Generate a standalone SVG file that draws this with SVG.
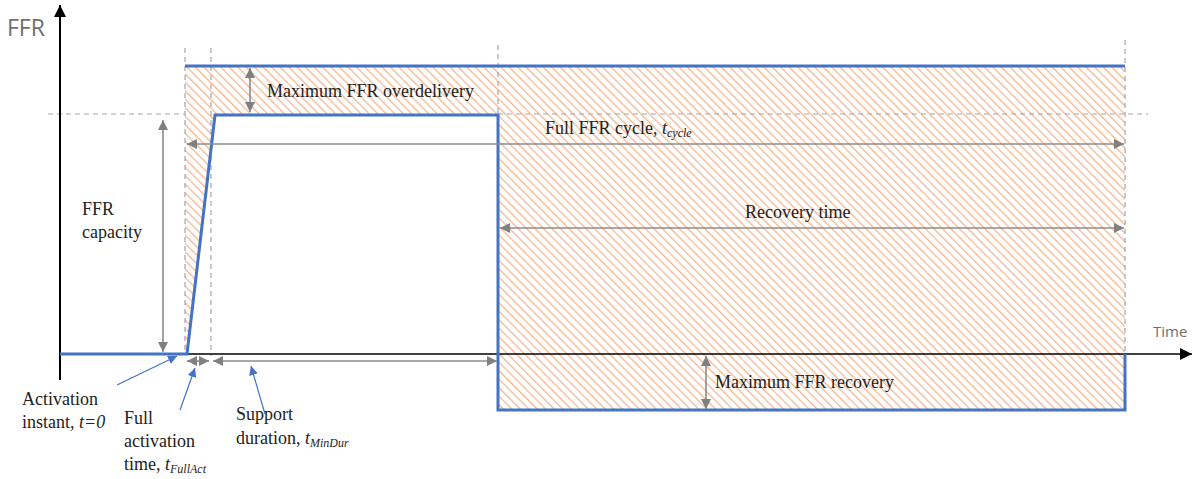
<svg xmlns="http://www.w3.org/2000/svg" width="1197" height="479" viewBox="0 0 1197 479">
<defs>
<pattern id="hatch" patternUnits="userSpaceOnUse" width="6" height="6" patternTransform="rotate(-45)">
<rect width="6" height="6" fill="#ffffff"/>
<line x1="0" y1="0" x2="0" y2="6" stroke="#f4b690" stroke-width="2.6"/>
</pattern>
<marker id="ga" viewBox="0 0 10 10" refX="10" refY="5" markerWidth="10" markerHeight="10" markerUnits="userSpaceOnUse" orient="auto-start-reverse">
<path d="M0,0 L10,5 L0,10 z" fill="#808080"/>
</marker>
<marker id="ka" viewBox="0 0 10 10" refX="10" refY="5" markerWidth="12" markerHeight="12" markerUnits="userSpaceOnUse" orient="auto">
<path d="M0,0 L10,5 L0,10 z" fill="#000"/>
</marker>
<marker id="ba" viewBox="0 0 10 10" refX="10" refY="5" markerWidth="9" markerHeight="9" markerUnits="userSpaceOnUse" orient="auto">
<path d="M0,0 L10,5 L0,10 z" fill="#4472c4"/>
</marker>
<style>
.lbl{font-family:"Liberation Serif","Times New Roman",serif;font-size:18px;fill:#222}
.ax{font-family:"Open Sans","DejaVu Sans",sans-serif;fill:#6f6f6f}
.dash{stroke:#a6a6a6;stroke-width:1.2;stroke-dasharray:5,4;fill:none}
.dim{stroke:#8c8c8c;stroke-width:1.6;fill:none;marker-start:url(#ga);marker-end:url(#ga)}
.ptr{stroke:#4472c4;stroke-width:1.2;fill:none;marker-end:url(#ba)}
.curve{stroke:#4472c4;stroke-width:3;fill:none}
</style>
</defs>

<g id="hatched-area">
<path d="M185,66 L1125,66 L1125,410 L498,410 L498,115 L215,115 L187,354 L185,354 Z" fill="url(#hatch)"/>
</g>

<g id="guides">
<line class="dash" x1="185" y1="48" x2="185" y2="354"/>
<line class="dash" x1="211" y1="48" x2="211" y2="356"/>
<line class="dash" x1="498" y1="45" x2="498" y2="115"/>
<line class="dash" x1="1125" y1="40" x2="1125" y2="354"/>
<line class="dash" x1="48" y1="114" x2="185" y2="114"/>
<line class="dash" x1="498" y1="114" x2="1148" y2="114"/>
</g>

<g id="axes">
<line x1="60" y1="380" x2="60" y2="5" stroke="#000" stroke-width="2" marker-end="url(#ka)"/>
<line x1="60" y1="354" x2="1192" y2="354" stroke="#000" stroke-width="1.5" marker-end="url(#ka)"/>
<text class="ax" x="7" y="36" font-size="23">FFR</text>
<text class="ax" x="1153" y="337" font-size="15">Time</text>
</g>

<g id="ffr-curve">
<polyline class="curve" points="60,354 187,354 215,115 498,115 498,410 1125,410 1125,354"/>
<line class="curve" x1="185" y1="66" x2="1125" y2="66"/>
</g>

<g id="connectors">
<line class="dim" x1="250" y1="68" x2="250" y2="112"/>
<line class="dim" x1="163" y1="120" x2="163" y2="352"/>
<line class="dim" x1="187" y1="144" x2="1124" y2="144"/>
<line class="dim" x1="500" y1="228" x2="1124" y2="228"/>
<line class="dim" x1="706" y1="356" x2="706" y2="409"/>
<line class="dim" x1="187" y1="361" x2="209" y2="361"/>
<line class="dim" x1="213" y1="361" x2="497" y2="361"/>
<line class="ptr" x1="117" y1="385" x2="177" y2="356"/>
<line class="ptr" x1="180" y1="410" x2="195" y2="368"/>
<line class="ptr" x1="265" y1="414" x2="251" y2="366"/>
</g>

<g id="label-overdelivery"><text class="lbl" x="267" y="97">Maximum FFR overdelivery</text></g>
<g id="label-capacity"><text class="lbl" x="82" y="215">FFR</text><text class="lbl" x="82" y="238">capacity</text></g>
<g id="label-cycle"><text class="lbl" x="545" y="134">Full FFR cycle, <tspan font-style="italic">t</tspan><tspan font-style="italic" font-size="12" dy="3">cycle</tspan></text></g>
<g id="label-recovery-time"><text class="lbl" x="745" y="218">Recovery time</text></g>
<g id="label-max-recovery"><text class="lbl" x="715" y="388">Maximum FFR recovery</text></g>
<g id="label-activation"><text class="lbl" x="22" y="405">Activation</text><text class="lbl" x="22" y="428">instant, <tspan font-style="italic">t=0</tspan></text></g>
<g id="label-full-activation"><text class="lbl" x="124" y="424">Full</text><text class="lbl" x="124" y="447">activation</text><text class="lbl" x="124" y="470">time, <tspan font-style="italic">t</tspan><tspan font-style="italic" font-size="12" dy="3">FullAct</tspan></text></g>
<g id="label-support"><text class="lbl" x="236" y="420">Support</text><text class="lbl" x="236" y="444">duration, <tspan font-style="italic">t</tspan><tspan font-style="italic" font-size="12" dy="3">MinDur</tspan></text></g>
</svg>
